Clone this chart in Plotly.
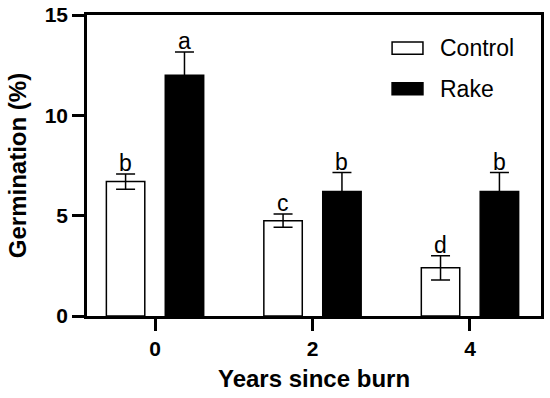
import plotly.graph_objects as go

# ---- data ----
years = ["0", "2", "4"]
control = [6.7, 4.75, 2.4]
control_err = [0.38, 0.33, 0.6]
rake = [12.0, 6.2, 6.2]
rake_err = [1.15, 0.95, 0.95]
control_letters = ["b", "c", "d"]
rake_letters = ["a", "b", "b"]

FONT = "Arial, Liberation Sans, sans-serif"
pos = list(range(len(years)))
W = 0.244
OFF = 0.187

fig = go.Figure()
fig.add_trace(go.Bar(
    x=pos, y=control, name="Control", width=W, offset=-OFF - W / 2,
    marker=dict(color="white", line=dict(color="black", width=1.5)),
    error_y=dict(type="data", array=control_err, color="black", thickness=1.5, width=9.5),
    showlegend=False))
fig.add_trace(go.Bar(
    x=pos, y=rake, name="Rake", width=W, offset=OFF - W / 2,
    marker=dict(color="black", line=dict(color="black", width=1.5)),
    error_y=dict(type="data", array=rake_err, color="black", thickness=1.5, width=9.5),
    showlegend=False))

# significance letters
for i in pos:
    fig.add_annotation(x=i - OFF, y=control[i] + control_err[i], text=control_letters[i],
                       showarrow=False, yanchor="bottom", yshift=-4,
                       font=dict(family=FONT, size=23, color="black"))
    fig.add_annotation(x=i + OFF, y=rake[i] + rake_err[i], text=rake_letters[i],
                       showarrow=False, yanchor="bottom", yshift=-4,
                       font=dict(family=FONT, size=23, color="black"))

# manual legend (wide rectangles)
legend_items = [("Control", "white", 0.91, 0.87), ("Rake", "black", 0.775, 0.735)]
for label, fill, y1, y0 in legend_items:
    fig.add_shape(type="rect", xref="paper", yref="paper", x0=0.672, x1=0.74, y0=y0, y1=y1,
                  fillcolor=fill, line=dict(color="black", width=1.5))
    fig.add_annotation(xref="paper", yref="paper", x=0.774, y=(y0 + y1) / 2, text=label,
                       showarrow=False, xanchor="left", yanchor="middle",
                       font=dict(family=FONT, size=23, color="black"))

axis_common = dict(showline=True, linecolor="black", linewidth=2.5, mirror=True,
                   ticks="outside", ticklen=12, tickwidth=2.5, tickcolor="black",
                   showgrid=False, zeroline=False, automargin=False)

fig.update_layout(
    width=550, height=398,
    margin=dict(l=87, r=9, t=15, b=82),
    paper_bgcolor="white", plot_bgcolor="white",
    barmode="overlay",
    font=dict(family=FONT, color="black"),
    xaxis=dict(tickvals=pos, ticktext=["<b>%s</b>" % y for y in years], range=[-0.432, 2.451],
               title=dict(text="<b>Years since burn</b>", font=dict(size=24), standoff=12),
               tickfont=dict(size=21),
               **axis_common),
    yaxis=dict(range=[0, 15], tickvals=[0, 5, 10, 15],
               ticktext=["<b>0</b>", "<b>5</b>", "<b>10</b>", "<b>15</b>"],
               title=dict(text="<b>Germination (%)</b>", font=dict(size=24), standoff=12),
               tickfont=dict(size=21),
               **axis_common),
)

fig.write_html("out.html", config={"displayModeBar": False},
               post_script="document.body.style.margin='0';document.body.style.overflow='hidden';")
